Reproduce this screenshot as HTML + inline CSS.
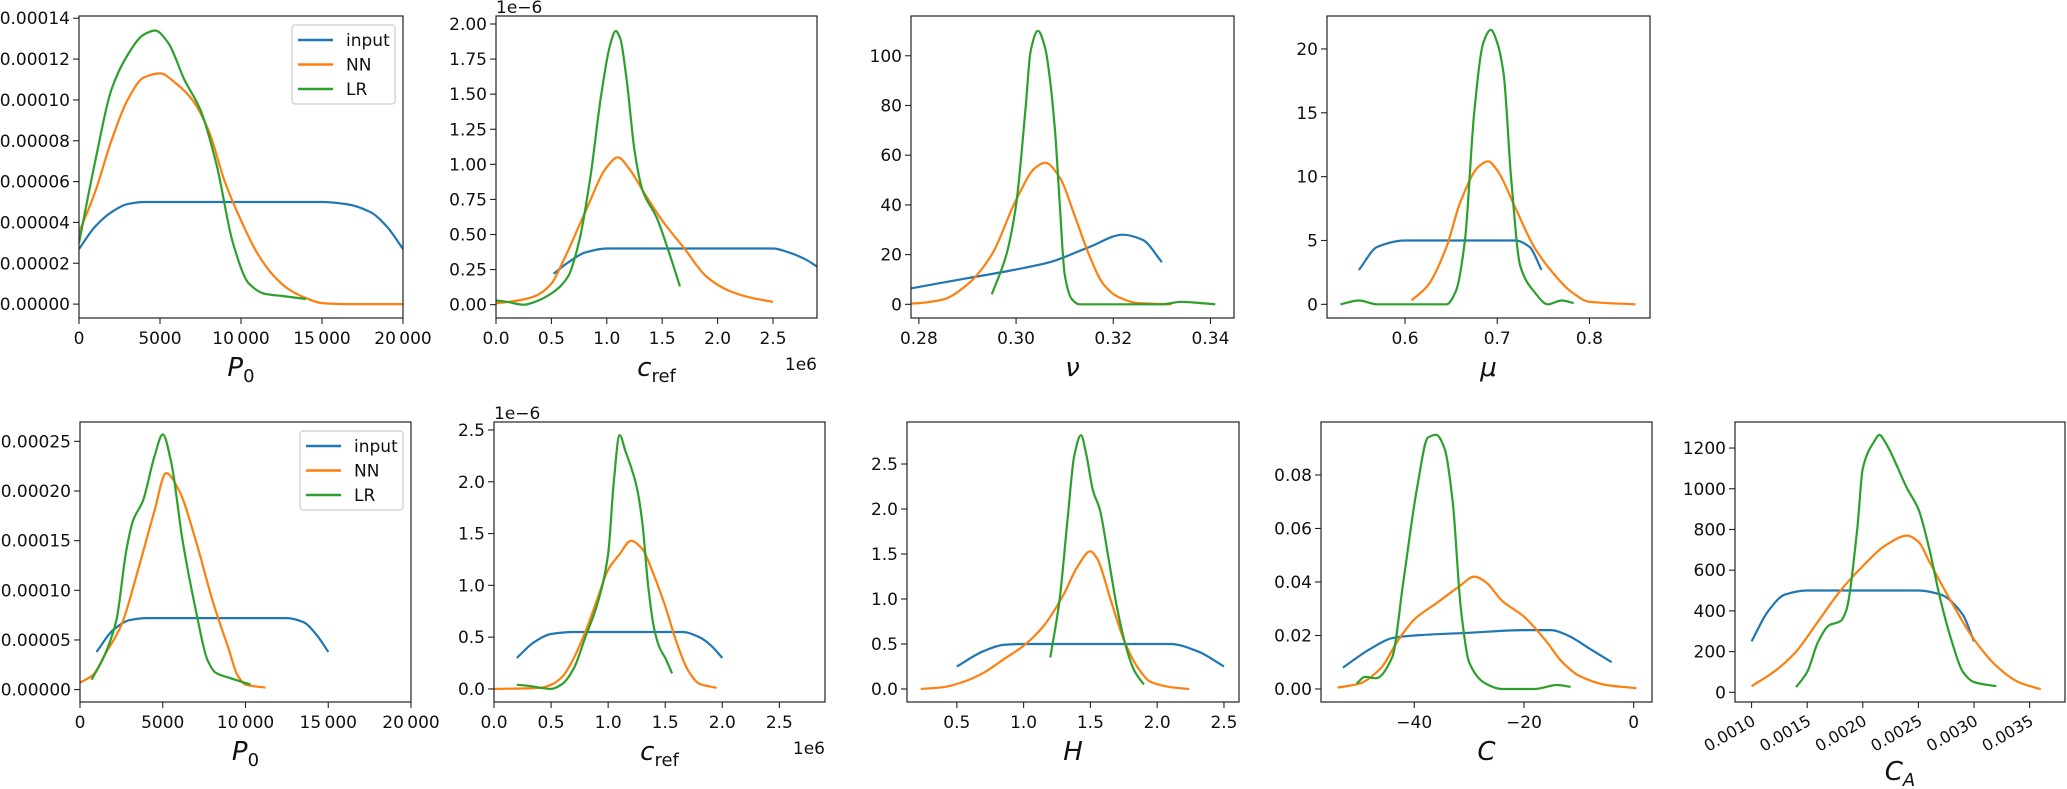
<!DOCTYPE html>
<html><head><meta charset="utf-8"><style>
html,body{margin:0;padding:0;background:#fff;}
svg{display:block;font-family:"DejaVu Sans","Liberation Sans",sans-serif;}
</style></head><body>
<svg id="fig" width="2067" height="789" viewBox="0 0 2067 789" xmlns="http://www.w3.org/2000/svg"></svg>
<script>
// ---- data (x, density) ----
const p1_input=[[0,0.000027],[1000,0.000038],[2000,0.000045],[3000,0.000049],[4000,0.00005],[15000,0.00005],[16500,0.000049],[18000,0.000045],[19000,0.000038],[20000,0.000027]];
const p1_nn=[[0,0.000035],[1000,0.000055],[2000,0.00008],[3000,0.0001],[4000,0.000111],[5000,0.000113],[6000,0.000108],[7000,0.0001],[8000,0.000085],[9000,0.00006],[10000,0.000041],[11000,0.000025],[12000,0.000014],[13000,0.000007],[14000,0.000003],[15000,0.0000005],[17000,0],[20000,0]];
const p1_lr=[[0,0.00003],[1000,0.00007],[2000,0.000105],[3000,0.000122],[4000,0.000132],[4700,0.000134],[5500,0.000128],[6500,0.00011],[7500,0.000095],[8500,0.000068],[9500,0.00003],[10500,0.00001],[11500,0.000005],[12500,0.000004],[14000,0.0000025]];
const p2_input=[[0.52,0.22],[0.65,0.3],[0.8,0.37],[1.0,0.4],[2.5,0.4],[2.65,0.37],[2.8,0.32],[2.9,0.27]];
const p2_nn=[[0,0.01],[0.2,0.03],[0.35,0.06],[0.5,0.15],[0.6,0.3],[0.8,0.65],[1.0,0.98],[1.1,1.05],[1.2,0.97],[1.35,0.78],[1.5,0.6],[1.7,0.4],[1.9,0.2],[2.1,0.1],[2.3,0.05],[2.5,0.02]];
const p2_lr=[[0,0.03],[0.1,0.02],[0.25,0.0],[0.35,0.02],[0.5,0.08],[0.65,0.2],[0.75,0.45],[0.85,0.9],[0.95,1.5],[1.03,1.85],[1.08,1.95],[1.12,1.9],[1.18,1.6],[1.25,1.1],[1.32,0.82],[1.45,0.62],[1.55,0.4],[1.66,0.13]];
const p3_input=[[0.272,4],[0.28,7],[0.29,10.5],[0.3,14],[0.307,17],[0.315,23],[0.322,28],[0.326,26],[0.33,17]];
const p3_nn=[[0.2745,0],[0.28,0.5],[0.285,2],[0.29,8],[0.295,20],[0.3,42],[0.304,55],[0.306,57],[0.309,51],[0.312,36],[0.315,20],[0.318,8],[0.321,3],[0.325,0.5],[0.332,0]];
const p3_lr=[[0.295,4],[0.298,20],[0.3,40],[0.302,80],[0.303,102],[0.3045,110],[0.306,103],[0.307,90],[0.308,70],[0.309,40],[0.31,12],[0.3115,2],[0.313,0],[0.33,0],[0.334,1],[0.338,0.5],[0.341,0]];
const p4_input=[[0.55,2.7],[0.57,4.5],[0.6,5],[0.72,5],[0.735,4.5],[0.748,2.7]];
const p4_nn=[[0.607,0.3],[0.625,1.5],[0.645,4.5],[0.66,8],[0.68,10.8],[0.69,11.2],[0.7,10.5],[0.72,7.5],[0.74,4.5],[0.76,2.5],[0.78,1],[0.8,0.2],[0.85,0]];
const p4_lr=[[0.53,0],[0.55,0.3],[0.57,0],[0.645,0],[0.655,1],[0.665,5],[0.675,15],[0.685,20.5],[0.693,21.5],[0.7,20.5],[0.707,18],[0.715,10],[0.725,3],[0.74,1],[0.755,0],[0.77,0.3],[0.783,0.1]];
const p5_input=[[1000,0.000038],[2000,0.00006],[3000,0.00007],[4000,0.000072],[12500,0.000072],[13500,0.000068],[14300,0.000055],[15000,0.000038]];
const p5_nn=[[0,0.000007],[800,0.000015],[1500,0.000035],[2500,0.000065],[3500,0.00012],[4500,0.00018],[5200,0.000218],[6000,0.0002],[7000,0.00015],[8000,0.00009],[9000,0.00004],[9500,0.000015],[10000,0.000005],[11200,0.000002]];
const p5_lr=[[700,0.00001],[1500,0.000035],[2200,0.00007],[2800,0.00014],[3200,0.00017],[3800,0.00019],[4500,0.000235],[5000,0.000257],[5500,0.00023],[6200,0.00015],[7000,0.00008],[7700,0.00003],[8200,0.000017],[9000,0.000012],[10300,0.000005]];
const p6_input=[[0.2,0.3],[0.35,0.45],[0.5,0.53],[0.7,0.55],[1.65,0.55],[1.8,0.5],[1.9,0.42],[2.0,0.3]];
const p6_nn=[[0,0],[0.4,0.01],[0.5,0.04],[0.6,0.12],[0.7,0.3],[0.8,0.55],[0.9,0.85],[1.0,1.15],[1.1,1.3],[1.2,1.43],[1.3,1.35],[1.4,1.1],[1.5,0.8],[1.6,0.45],[1.7,0.18],[1.8,0.05],[1.95,0.01]];
const p6_lr=[[0.2,0.04],[0.3,0.03],[0.5,0.0],[0.6,0.05],[0.7,0.2],[0.8,0.5],[0.9,0.8],[1.0,1.3],[1.05,2.0],[1.1,2.45],[1.15,2.3],[1.25,1.95],[1.3,1.6],[1.35,1.0],[1.4,0.6],[1.45,0.4],[1.5,0.3],[1.56,0.15]];
const p7_input=[[0.5,0.25],[0.7,0.42],[0.85,0.49],[1.0,0.5],[2.1,0.5],[2.3,0.42],[2.5,0.25]];
const p7_nn=[[0.23,0],[0.4,0.02],[0.55,0.08],[0.7,0.18],[0.85,0.33],[1.0,0.48],[1.15,0.7],[1.3,1.05],[1.4,1.35],[1.5,1.53],[1.55,1.45],[1.65,1.0],[1.75,0.55],[1.85,0.25],[1.95,0.08],[2.1,0.02],[2.24,0]];
const p7_lr=[[1.2,0.35],[1.27,1.0],[1.33,1.9],[1.38,2.6],[1.43,2.82],[1.47,2.6],[1.52,2.2],[1.57,2.0],[1.63,1.5],[1.7,0.9],[1.77,0.45],[1.83,0.2],[1.9,0.05]];
const p8_input=[[-53,0.008],[-48,0.015],[-44,0.019],[-40,0.02],[-30,0.021],[-20,0.022],[-15,0.022],[-12,0.02],[-8,0.015],[-4,0.01]];
const p8_nn=[[-54,0.0005],[-50,0.002],[-46,0.008],[-43,0.018],[-40,0.026],[-36,0.032],[-32,0.038],[-29,0.042],[-27,0.04],[-24,0.033],[-20,0.027],[-16,0.018],[-13,0.01],[-10,0.005],[-5,0.0015],[0.5,0.0003]];
const p8_lr=[[-50.5,0.002],[-49,0.0045],[-47,0.004],[-44,0.012],[-42,0.04],[-39.5,0.075],[-37.5,0.094],[-36,0.095],[-34.5,0.09],[-33,0.07],[-31.5,0.03],[-30,0.01],[-27,0.002],[-24,0],[-18,0],[-14,0.0015],[-11.5,0.0008]];
const p9_input=[[0.001,250],[0.00115,400],[0.0013,480],[0.0015,500],[0.0025,500],[0.0027,480],[0.0029,380],[0.003,250]];
const p9_nn=[[0.001,30],[0.0012,100],[0.0014,200],[0.0016,350],[0.0018,500],[0.002,620],[0.0022,720],[0.0024,770],[0.0025,740],[0.0026,640],[0.0028,440],[0.003,260],[0.0032,130],[0.0034,50],[0.0036,15]];
const p9_lr=[[0.0014,25],[0.0015,100],[0.0016,250],[0.0017,330],[0.0018,350],[0.00185,400],[0.00195,800],[0.002,1100],[0.0021,1230],[0.00215,1265],[0.0022,1230],[0.0024,1000],[0.0025,900],[0.0026,700],[0.0027,450],[0.0028,250],[0.0029,100],[0.003,50],[0.0032,30]];
// tick values
const p1_xticks=[0,5000,10000,15000,20000];
const p1_xlabels=["0","5000","10\u2009000","15\u2009000","20\u2009000"];
const p1_yticks=[0,0.00002,0.00004,0.00006,0.00008,0.0001,0.00012,0.00014];
const p2_xticks=[0,0.5,1,1.5,2,2.5];
const p2_yticks=[0,0.25,0.5,0.75,1,1.25,1.5,1.75,2];
const p3_xticks=[0.28,0.30,0.32,0.34];
const p3_yticks=[0,20,40,60,80,100];
const p4_xticks=[0.6,0.7,0.8];
const p4_yticks=[0,5,10,15,20];
const p5_yticks=[0,0.00005,0.0001,0.00015,0.0002,0.00025];
const p6_yticks=[0,0.5,1,1.5,2,2.5];
const p7_xticks=[0.5,1,1.5,2,2.5];
const p7_yticks=[0,0.5,1,1.5,2,2.5];
const p8_xticks=[-40,-20,0];
const p8_yticks=[0,0.02,0.04,0.06,0.08];
const p9_xticks=[0.001,0.0015,0.002,0.0025,0.003,0.0035];
const p9_yticks=[0,200,400,600,800,1000,1200];

const NS="http://www.w3.org/2000/svg";
const fig=document.getElementById('fig');
const COLORS={input:'#1f77b4',nn:'#ff7f0e',lr:'#2ca02c'};
function mk(tag,attrs,parent){const e=document.createElementNS(NS,tag);for(const k in attrs)e.setAttribute(k,attrs[k]);(parent||fig).appendChild(e);return e;}
const fmt=(d)=>v=>{let s=v.toFixed(d);return s.replace('-','\u2212');};
// monotone cubic (Fritsch–Carlson) path through pixel points, x increasing
function smooth(pts){
 const n=pts.length;
 const f=v=>v.toFixed(1);
 if(n<3)return pts.map((p,i)=>(i?'L':'M')+f(p[0])+' '+f(p[1])).join(' ');
 const dx=[],m=[];
 for(let i=0;i<n-1;i++){dx.push(pts[i+1][0]-pts[i][0]);m.push((pts[i+1][1]-pts[i][1])/dx[i]);}
 const t=new Array(n);
 t[0]=m[0];t[n-1]=m[n-2];
 for(let i=1;i<n-1;i++){
  if(m[i-1]*m[i]<=0)t[i]=0;
  else{const w1=2*dx[i]+dx[i-1],w2=dx[i]+2*dx[i-1];t[i]=(w1+w2)/(w1/m[i-1]+w2/m[i]);}
 }
 let d='M'+f(pts[0][0])+' '+f(pts[0][1]);
 for(let i=0;i<n-1;i++){
  const h=dx[i]/3;
  d+=' C'+f(pts[i][0]+h)+' '+f(pts[i][1]+t[i]*h)+' '+f(pts[i+1][0]-h)+' '+f(pts[i+1][1]-t[i+1]*h)+' '+f(pts[i+1][0])+' '+f(pts[i+1][1]);
 }
 return d;
}

const panels=[
 {id:'p0-top',box:[79,16,403,318],x:[0,20000],y:[-0.0000068,0.0001411],series:[p1_input,p1_nn,p1_lr],xt:p1_xticks,xl:p1_xlabels,yt:p1_yticks,yf:fmt(5),label:'P0',legend:true},
 {id:'cref-top',box:[496,16,817,318],x:[0,2.897],y:[-0.095,2.057],series:[p2_input,p2_nn,p2_lr],xt:p2_xticks,xf:fmt(1),yt:p2_yticks,yf:fmt(2),label:'cref',off:true},
 {id:'nu',box:[911,16,1234,318],x:[0.27838,0.34484],y:[-5.5,116],series:[p3_input,p3_nn,p3_lr],xt:p3_xticks,xf:fmt(2),yt:p3_yticks,yf:fmt(0),label:'ν'},
 {id:'mu',box:[1327,16,1650,318],x:[0.5154,0.8657],y:[-1.07,22.58],series:[p4_input,p4_nn,p4_lr],xt:p4_xticks,xf:fmt(1),yt:p4_yticks,yf:fmt(0),label:'μ'},
 {id:'p0-bottom',box:[80,422,411,702],x:[0,20000],y:[-0.0000125,0.0002695],series:[p5_input,p5_nn,p5_lr],xt:p1_xticks,xl:p1_xlabels,yt:p5_yticks,yf:fmt(5),label:'P0',legend:true},
 {id:'cref-bottom',box:[494,422,825,702],x:[0,2.9],y:[-0.126,2.577],series:[p6_input,p6_nn,p6_lr],xt:p2_xticks,xf:fmt(1),yt:p6_yticks,yf:fmt(1),label:'cref',off:true},
 {id:'h',box:[907,422,1239,702],x:[0.127,2.6125],y:[-0.145,2.967],series:[p7_input,p7_nn,p7_lr],xt:p7_xticks,xf:fmt(1),yt:p7_yticks,yf:fmt(1),label:'H'},
 {id:'c',box:[1321,422,1652,702],x:[-57.0,3.34],y:[-0.00487,0.0998],series:[p8_input,p8_nn,p8_lr],xt:p8_xticks,xf:fmt(0),yt:p8_yticks,yf:fmt(2),label:'C'},
 {id:'ca',box:[1735,422,2065,702],x:[0.000851,0.003818],y:[-47.7,1328],series:[p9_input,p9_nn,p9_lr],xt:p9_xticks,xf:fmt(4),yt:p9_yticks,yf:fmt(0),label:'CA',rot:true}
];
const keys=['input','nn','lr'];
panels.forEach(p=>{
 const [L,T,R,B]=p.box;
 const g=mk('g',{});
 
 
 const sx=v=>L+(v-p.x[0])/(p.x[1]-p.x[0])*(R-L);
 const sy=v=>B-(v-p.y[0])/(p.y[1]-p.y[0])*(B-T);
 const cp=mk('clipPath',{id:'clip-'+p.id},g);mk('rect',{x:L,y:T,width:R-L,height:B-T},cp);
 p.series.forEach((s,i)=>{
  const d=smooth(s.map(pt=>[sx(pt[0]),sy(pt[1])]));
  const path=mk('path',{d:d,fill:'none',stroke:COLORS[keys[i]],'stroke-width':2.2,'stroke-linejoin':'round','clip-path':'url(#clip-'+p.id+')'},g);
  
  
 });
 const frame=mk('rect',{x:L,y:T,width:R-L,height:B-T,fill:'none',stroke:'#222','stroke-width':1.2},g);
 
 
 p.xt.forEach((v,i)=>{
  const x=sx(v);
  mk('line',{x1:x,y1:B,x2:x,y2:B+6,stroke:'#222','stroke-width':1.1},g);
  const lab=p.xl?p.xl[i]:p.xf(v);
  let t;
  if(p.rot){t=mk('text',{x:x+5,y:B+22,'font-size':16,'text-anchor':'end',transform:'rotate(-30 '+(x+5)+' '+(B+22)+')',fill:'#111'},g);}
  else t=mk('text',{x:x,y:B+26,'font-size':17,'text-anchor':'middle',fill:'#111'},g);
  t.textContent=lab;
  
  
 });
 p.yt.forEach(v=>{
  const y=sy(v);
  mk('line',{x1:L-6,y1:y,x2:L,y2:y,stroke:'#222','stroke-width':1.1},g);
  const t=mk('text',{x:L-9,y:y+6,'font-size':17,'text-anchor':'end',fill:'#111'},g);
  t.textContent=p.yf(v);
  
  
 });
 if(p.off){
  const t1=mk('text',{x:L,y:T-3,'font-size':17,fill:'#111'},g);t1.textContent='1e\u22126';
  
  
  const t2=mk('text',{x:R,y:B+52,'font-size':17,'text-anchor':'end',fill:'#111'},g);t2.textContent='1e6';
  
  
 }
 const cx=(L+R)/2, ly=p.rot?B+78:B+58;
 const xt=mk('text',{x:cx,y:ly,'font-size':26,'text-anchor':'middle',fill:'#111'},g);
 
 
 const lbl=p.label;
 const it=(s)=>{const e=mk('tspan',{'font-style':'italic'},xt);e.textContent=s;return e;};
 if(lbl==='P0'){it('P');const s=mk('tspan',{'font-size':18,dy:6},xt);s.textContent='0';}
 else if(lbl==='cref'){it('c');const s=mk('tspan',{'font-size':18,dy:6},xt);s.textContent='ref';}
 else if(lbl==='CA'){it('C');const s=mk('tspan',{'font-size':18,dy:6,'font-style':'italic'},xt);s.textContent='A';}
 else it(lbl);
 if(p.legend){
  const lx=R-111, ly0=T+9;
  const lg=mk('g',{},g);
  
  
  mk('rect',{x:lx,y:ly0,width:103,height:79,rx:3,fill:'#fff',stroke:'#ccc','stroke-width':1.2},lg);
  ['input','NN','LR'].forEach((n,i)=>{
   const yy=ly0+15+i*24.5;
   mk('line',{x1:lx+6,y1:yy,x2:lx+41,y2:yy,stroke:COLORS[keys[i]],'stroke-width':2.4},lg);
   const t=mk('text',{x:lx+54,y:yy+6,'font-size':17,fill:'#111'},lg);t.textContent=n;
   
   
  });
 }
});
</script>
</body></html>
